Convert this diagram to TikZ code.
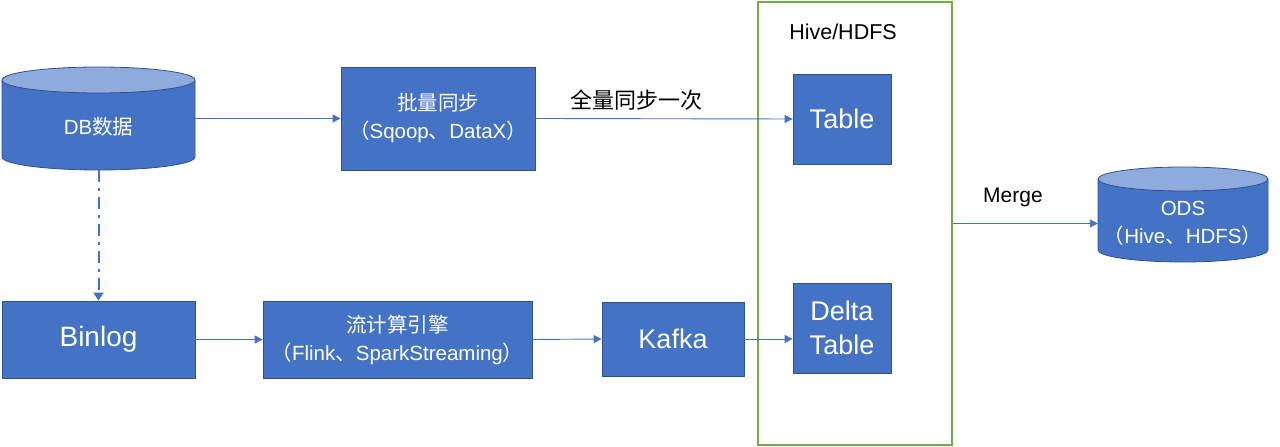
\documentclass[tikz,border=0pt]{standalone}
\usepackage{fontspec}
\setmainfont{Liberation Sans}
\newfontfamily\cjk{Noto Sans CJK SC}
\usetikzlibrary{arrows.meta}
\definecolor{boxblue}{HTML}{4472C4}
\definecolor{boxedge}{HTML}{2F528F}
\definecolor{topblue}{HTML}{8FAADC}
\definecolor{hivegreen}{HTML}{70AD47}
\begin{document}
\begin{tikzpicture}[x=1pt,y=1pt,
  bluebox/.style={draw=boxedge,line width=0.8pt,fill=boxblue,text=white,inner sep=0pt,align=center},
  flow/.style={draw=boxblue,line width=0.9pt,-{Triangle[length=8pt,width=8pt]}},
  small/.style={font=\fontsize{20.5}{28}\selectfont},
  big/.style={font=\fontsize{27}{34}\selectfont},
  plain/.style={inner sep=0pt,align=center},
  cylbody/.style={fill=boxblue},
  cyledge/.style={draw=boxedge,line width=0.8pt},
  cyltop/.style={draw=boxedge,line width=0.8pt,fill=topblue}]
\useasboundingbox (0,0) rectangle (1280,447);

% DB cylinder
\fill[cylbody] (2,367) -- (2,290) arc[start angle=180,end angle=360,x radius=96.5pt,y radius=13pt] -- (195,367) -- cycle;
\draw[cyledge] (2,367) -- (2,290) arc[start angle=180,end angle=360,x radius=96.5pt,y radius=13pt] -- (195,367);
\draw[cyltop] (98.5,367) ellipse[x radius=96.5pt,y radius=13pt];
\node[plain,minimum width=193pt,minimum height=103pt] (db) at (98.5,328.5) {};
\node[plain,small,text=white] (dbtext) at (98.5,320) {DB{\cjk 数据}};

% ODS cylinder
\fill[cylbody] (1098,268) -- (1098,197) arc[start angle=180,end angle=360,x radius=85pt,y radius=12pt] -- (1268,268) -- cycle;
\draw[cyledge] (1098,268) -- (1098,197) arc[start angle=180,end angle=360,x radius=85pt,y radius=12pt] -- (1268,268);
\draw[cyltop] (1183,268) ellipse[x radius=85pt,y radius=12pt];
\node[plain,minimum width=170pt,minimum height=95pt] (ods) at (1183,232.5) {};
\node[plain,small,text=white] (odstext) at (1183,223.5) {ODS\\{\cjk （}Hive{\cjk 、}HDFS{\cjk ）}};

% boxes
\node[bluebox,small,minimum width=194pt,minimum height=103pt] (batch) at (438,328.5)
  {{\cjk 批量同步}\\{\cjk （}Sqoop{\cjk 、}DataX{\cjk ）}};
\node[bluebox,font=\fontsize{28}{34}\selectfont,minimum width=193pt,minimum height=77pt] (binlog) at (98.5,107.5) {Binlog};
\node[bluebox,small,minimum width=269pt,minimum height=77pt] (stream) at (397.5,107.5)
  {{\cjk 流计算引擎}\\{\cjk （}Flink{\cjk 、}SparkStreaming{\cjk ）}};
\node[bluebox,big,minimum width=142pt,minimum height=74pt] (kafka) at (673,108) {Kafka};

% Hive/HDFS container
\node[draw=hivegreen,line width=1.3pt,minimum width=194pt,minimum height=443pt,inner sep=0pt] (hive) at (855,223.5) {};
\node[plain,font=\fontsize{21.5}{24}\selectfont] (hivelabel) at (843,415) {Hive/HDFS};
\node[bluebox,big,minimum width=98pt,minimum height=90pt] (table) at (842,328) {Table};
\node[bluebox,big,minimum width=98pt,minimum height=90pt] (delta) at (842,119) {Delta\\Table};

% labels
\node[plain,font=\fontsize{22}{26}\selectfont\cjk] (fulllabel) at (636,347) {全量同步一次};
\node[plain,font=\fontsize{21}{24}\selectfont] (mergelabel) at (1013,250) {Merge};

% connectors
\draw[flow] (db.east) -- (batch.west);
\draw[flow] (batch.east) -- (table.west);
\draw[flow] (binlog.east) -- (stream.west);
\draw[flow] (stream.east) -- (kafka.west);
\draw[flow] (kafka.east) -- (kafka.east -| delta.west);
\draw[flow] (hive.east) -- (hive.east -| ods.west);
\draw[draw=boxblue,line width=2pt,dash pattern=on 12pt off 6pt on 3pt off 6pt,-{Triangle[length=8pt,width=10pt]}] (db.south) -- (binlog.north);
\end{tikzpicture}
\end{document}
